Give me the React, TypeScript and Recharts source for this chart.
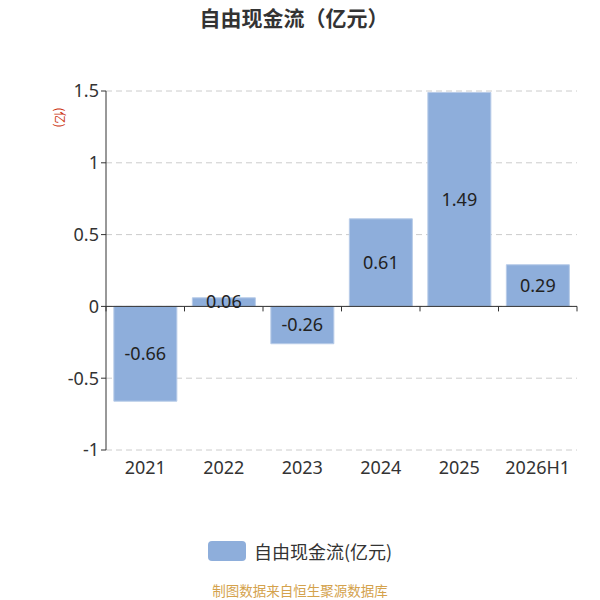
import React from "react";
import {
  BarChart,
  Bar,
  XAxis,
  YAxis,
  CartesianGrid,
  ReferenceLine,
  LabelList,
} from "recharts";

const years = ["2021", "2022", "2023", "2024", "2025", "2026H1"];
const cashFlow = [-0.66, 0.06, -0.26, 0.61, 1.49, 0.29];
const yTicks = [-1, -0.5, 0, 0.5, 1, 1.5];

const data = years.map((year, i) => ({ year, value: cashFlow[i] }));

const FONT = '"Noto Sans CJK SC", "Noto Sans", sans-serif';
const NUM_FONT = '"Noto Sans", "Noto Sans CJK SC", sans-serif';
const BAR_COLOR = "#8eaedb";

// zero line with the category tick marks hanging below it
const ZeroAxis = (props: any) => {
  const { x1, y1, x2 } = props;
  if (x1 == null) return null;
  const n = years.length;
  const step = (x2 - x1) / n;
  const marks = [];
  for (let k = 0; k <= n; k++) {
    const x = x1 + k * step;
    marks.push(<line key={k} x1={x} y1={y1} x2={x} y2={y1 + 5} stroke="#333" strokeWidth={1} />);
  }
  return (
    <g>
      <line x1={x1} y1={y1} x2={x2} y2={y1} stroke="#333" strokeWidth={1} />
      {marks}
    </g>
  );
};

export default function App() {
  return (
    <div style={{ position: "absolute", left: 0, top: 0, width: 600, height: 600, fontFamily: FONT }}>
      <div
        style={{
          position: "absolute",
          top: 2,
          left: 0,
          width: 588,
          textAlign: "center",
          fontSize: 21,
          fontWeight: "bold",
          color: "#333",
        }}
      >
        自由现金流（亿元）
      </div>
      <div
        style={{
          position: "absolute",
          left: 50,
          top: 109,
          fontSize: 12,
          color: "#cc3311",
          transform: "rotate(90deg)",
          transformOrigin: "center",
        }}
      >
        (亿)
      </div>
      <BarChart
        width={600}
        height={600}
        data={data}
        margin={{ top: 91, right: 23, left: 0, bottom: 120 }}
        barCategoryGap="10%"
      >
        <CartesianGrid vertical={false} stroke="#cccccc" strokeDasharray="6 4" />
        <XAxis
          dataKey="year"
          axisLine={false}
          tickLine={false}
          height={30}
          tickMargin={5}
          tick={{ fill: "#333", fontSize: 18, fontFamily: NUM_FONT }}
          interval={0}
        />
        <YAxis
          width={106}
          domain={[-1, 1.5]}
          ticks={yTicks}
          tick={{ fill: "#333", fontSize: 18, fontFamily: NUM_FONT }}
          tickSize={5}
          axisLine={{ stroke: "#333" }}
          tickLine={{ stroke: "#333" }}
        />
        <ReferenceLine y={0} shape={ZeroAxis} />
        <Bar dataKey="value" fill={BAR_COLOR} stroke="#b7cbe8" strokeWidth={1} isAnimationActive={false}>
          <LabelList dataKey="value" position="center" fill="#222" fontSize={18} fontFamily={NUM_FONT} />
        </Bar>
      </BarChart>
      <div
        style={{
          position: "absolute",
          top: 538,
          left: 0,
          width: 600,
          display: "flex",
          justifyContent: "center",
          alignItems: "center",
          gap: 8,
        }}
      >
        <span style={{ display: "inline-block", width: 38, height: 20, borderRadius: 4, background: BAR_COLOR }} />
        <span style={{ fontSize: 18, color: "#333" }}>自由现金流(亿元)</span>
      </div>
      <div
        style={{
          position: "absolute",
          top: 582,
          left: 300,
          transform: "translateX(-50%)",
          whiteSpace: "nowrap",
          lineHeight: "16px",
          fontSize: 13.5,
          color: "#d4a24c",
        }}
      >
        制图数据来自恒生聚源数据库
      </div>
    </div>
  );
}
